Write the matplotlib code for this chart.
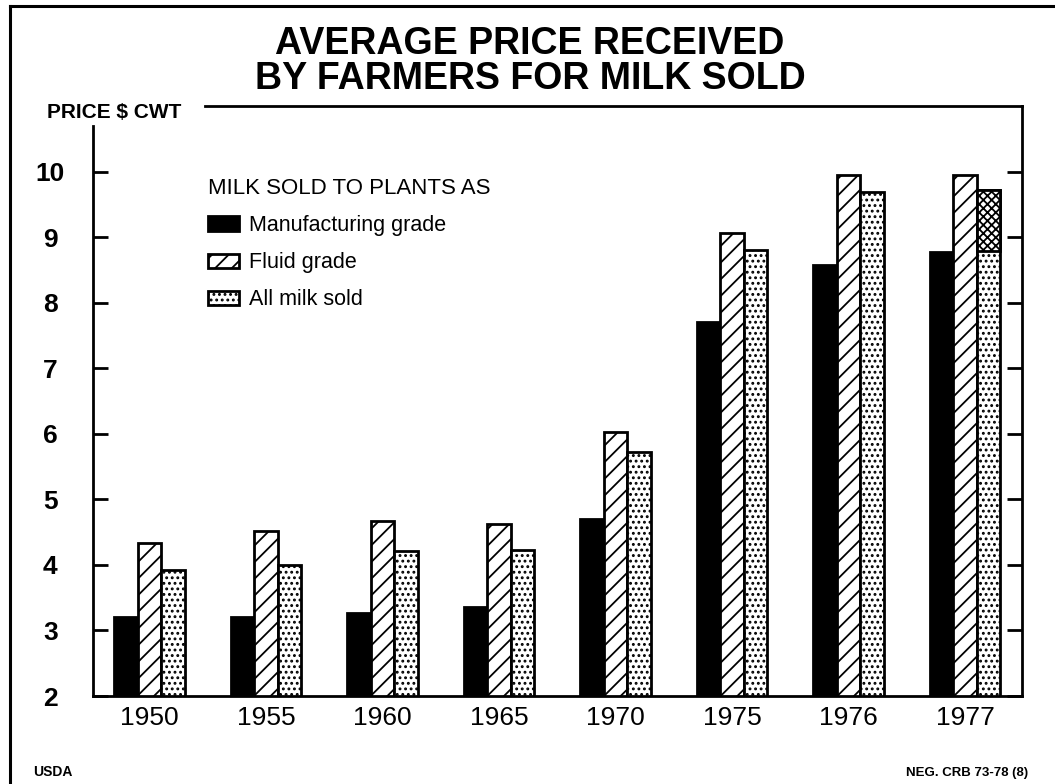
import matplotlib
matplotlib.use('Agg')
import matplotlib.pyplot as plt
import numpy as np
from matplotlib.lines import Line2D

# ---------------- data ----------------
years = ['1950', '1955', '1960', '1965', '1970', '1975', '1976', '1977']
manufacturing = [3.21, 3.20, 3.26, 3.36, 4.70, 7.70, 8.58, 8.77]
fluid = [4.34, 4.51, 4.67, 4.63, 6.03, 9.06, 9.94, 9.94]
all_milk = [3.92, 4.00, 4.21, 4.23, 5.72, 8.80, 9.69, 9.72]
shaded_base_1977 = 8.79          # lower edge of the cross-hatched part of 1977 "All milk" bar
yticks = [2, 3, 4, 5, 6, 7, 8, 9, 10]
series_labels = ['Manufacturing grade', 'Fluid grade', 'All milk sold']
legend_title = 'MILK SOLD TO PLANTS AS'
title_lines = ['AVERAGE PRICE RECEIVED', 'BY FARMERS FOR MILK SOLD']
ylabel_text = 'PRICE $ CWT'

# ---------------- layout ----------------
W, H = 1055, 784
plt.rcParams['font.family'] = ['Liberation Sans', 'DejaVu Sans']
plt.rcParams['hatch.linewidth'] = 1.3
plt.rcParams['hatch.color'] = 'black'

fig = plt.figure(figsize=(W / 100, H / 100), dpi=100)


def fx(px):
    return px / W


def fy(py):
    return 1 - py / H


ax_l, ax_r, ax_t, ax_b = 93.4, 1022, 106, 696
ax = fig.add_axes([fx(ax_l), fy(ax_b), fx(ax_r) - fx(ax_l), fy(ax_t) - fy(ax_b)])

x = np.arange(len(years))
bw = 0.203
edge_lw = 2.0

b1 = ax.bar(x - bw, manufacturing, bw, color='black', edgecolor='black', linewidth=edge_lw)
b2 = ax.bar(x, fluid, bw, color='white', edgecolor='black', linewidth=edge_lw, hatch='//')
b3 = ax.bar(x + bw, all_milk, bw, color='white', edgecolor='black', linewidth=edge_lw, hatch='...')
# darker cross-hatched upper part of the 1977 all-milk bar
ax.bar(x[-1] + bw, all_milk[-1] - shaded_base_1977, bw, bottom=shaded_base_1977,
       color='white', edgecolor='black', linewidth=edge_lw, hatch='xxxx')

xl0 = -(149.5 - ax_l) / 116.5
xl1 = (ax_r - 149.5) / 116.5
ax.set_xlim(xl0, xl1)
ax.set_ylim(2, 11)

# spines
for s in ax.spines.values():
    s.set_linewidth(2.0)
ax.spines['left'].set_bounds(2, 10.69)
top_start = xl0 + (205 - ax_l) / (ax_r - ax_l) * (xl1 - xl0)
ax.spines['top'].set_bounds(top_start, xl1)

# ticks
ax.set_yticks(yticks, labels=[str(v) for v in yticks], ha='center',
              fontsize=19, fontweight='bold')
ax.yaxis.set_ticks_position('both')
ax.tick_params(axis='y', which='both', direction='in', length=11, width=2.0, pad=31)
ax.set_xticks(x, labels=years, fontsize=19)
ax.tick_params(axis='x', length=0, pad=7.5)

# legend
leg = ax.legend(handles=[b1, b2, b3], labels=series_labels, title=legend_title,
                loc='upper left', bbox_to_anchor=(fx(208), fy(178)),
                bbox_transform=fig.transFigure, frameon=False, borderpad=0,
                borderaxespad=0, handlelength=1.45, handleheight=0.65,
                handletextpad=0.45, labelspacing=0.75, alignment='left',
                prop={'size': 15.5}, title_fontproperties={'size': 16})

# titles and labels
fig.text(fx(530), fy(54), title_lines[0], ha='center', va='baseline',
         fontsize=27, fontweight='bold')
fig.text(fx(530), fy(89), title_lines[1], ha='center', va='baseline',
         fontsize=27, fontweight='bold')
fig.text(fx(47), fy(118.5), ylabel_text, ha='left', va='baseline',
         fontsize=15, fontweight='bold')
fig.text(fx(33), fy(776), 'USDA', ha='left', va='baseline', fontsize=10, fontweight='bold')
fig.text(fx(1028), fy(776), 'NEG. CRB 73-78 (8)', ha='right', va='baseline',
         fontsize=9.5, fontweight='bold')

# outer frame
fig.add_artist(Line2D([fx(10), fx(10)], [fy(6), 0], transform=fig.transFigure,
                      color='black', lw=2.2))
fig.add_artist(Line2D([fx(10), 1], [fy(6), fy(6)], transform=fig.transFigure,
                      color='black', lw=2.2))

fig.savefig('out.png', dpi=100)
